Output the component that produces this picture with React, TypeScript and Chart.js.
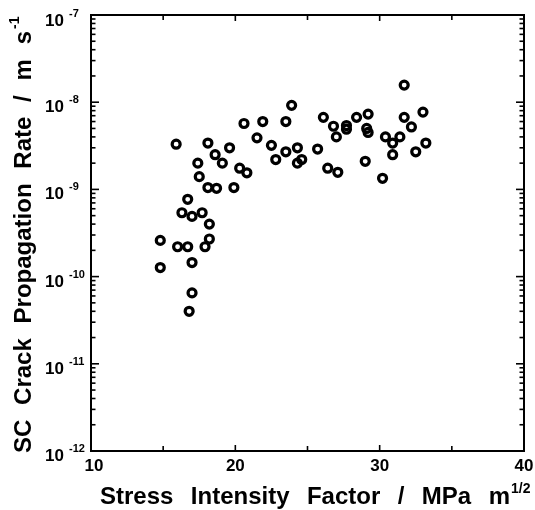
import React, { useEffect, useRef } from "react";
import { Chart, registerables } from "chart.js";

Chart.register(...registerables);

// Stress intensity factor K (MPa m^1/2)
const stressIntensity = [
  15.9, 18.1, 19.6, 18.6, 19.1, 17.4, 20.3, 20.8, 17.5, 18.1,
  18.7, 19.9, 16.7, 16.3, 17.0, 17.7, 18.2, 14.8, 16.0, 16.7,
  18.2, 17.9, 17.0, 14.8, 17.0, 16.8, 20.6, 21.9, 23.5, 23.9,
  21.5, 22.5, 23.5, 24.3, 22.8, 24.6, 24.3, 25.7, 26.1, 26.8,
  27.0, 27.7, 27.7, 28.4, 29.2, 29.1, 29.2, 26.4, 27.1, 29.0,
  30.2, 30.4, 31.7, 31.7, 33.0, 32.2, 31.4, 30.9, 30.9, 33.2,
  32.5,
];

// SC crack propagation rate (m/s)
const crackRate = [
  3.3e-9, 3.4e-9, 3.0e-9, 2.5e-9, 2.0e-9, 2.0e-9, 1.75e-9, 1.55e-9, 1.4e-9, 1.05e-9,
  1.03e-9, 1.05e-9, 7.7e-10, 5.4e-10, 4.9e-10, 5.4e-10, 4.0e-10, 2.6e-10, 2.2e-10, 2.2e-10,
  2.7e-10, 2.2e-10, 1.45e-10, 1.27e-10, 6.5e-11, 4.0e-11, 5.7e-9, 6.0e-9, 6.0e-9, 9.2e-9,
  3.9e-9, 3.2e-9, 2.7e-9, 3.0e-9, 2.2e-9, 2.2e-9, 2.0e-9, 2.9e-9, 6.7e-9, 5.3e-9,
  4.0e-9, 5.4e-9, 4.9e-9, 6.7e-9, 7.3e-9, 5.0e-9, 4.5e-9, 1.75e-9, 1.57e-9, 2.1e-9,
  1.34e-9, 4.0e-9, 1.57e-8, 6.7e-9, 7.7e-9, 5.2e-9, 4.0e-9, 3.4e-9, 2.5e-9, 3.4e-9,
  2.7e-9,
];

const xTickValues = [10, 20, 30, 40];
const xTickLabels = ["10", "20", "30", "40"];
const xMinorTickValues = [15, 25, 35];
const yExponents = [-7, -8, -9, -10, -11, -12];
const yExponentLabels = ["-7", "-8", "-9", "-10", "-11", "-12"];

const xTitleWords = ["Stress", "Intensity", "Factor", "/", "MPa", "m"];
const xTitleSup = "1/2";
const yTitleWords = ["SC", "Crack", "Propagation", "Rate", "/", "m", "s"];
const yTitleSup = "-1";

const FONT = '"Liberation Sans", Arial, sans-serif';

function drawJustified(
  ctx: CanvasRenderingContext2D,
  words: string[],
  start: number,
  end: number,
  font: string
) {
  ctx.font = font;
  const widths = words.map((w) => ctx.measureText(w).width);
  const total = widths.reduce((a, b) => a + b, 0);
  const gap = (end - start - total) / (words.length - 1);
  let x = start;
  words.forEach((w, i) => {
    ctx.fillText(w, x, 0);
    x += widths[i] + gap;
  });
  return x - gap;
}

const axesPlugin = {
  id: "customAxes",
  afterDraw(chart: any) {
    const ctx: CanvasRenderingContext2D = chart.ctx;
    const { left, right, top, bottom } = chart.chartArea;
    const xs = chart.scales.x;
    const ys = chart.scales.y;
    ctx.save();
    ctx.strokeStyle = "#000";
    ctx.fillStyle = "#000";
    ctx.lineWidth = 2;
    ctx.strokeRect(left, top, right - left, bottom - top);

    ctx.lineWidth = 1.6;
    const tick = (x1: number, y1: number, x2: number, y2: number) => {
      ctx.beginPath();
      ctx.moveTo(x1, y1);
      ctx.lineTo(x2, y2);
      ctx.stroke();
    };
    // x ticks
    xTickValues.forEach((v) => {
      const px = xs.getPixelForValue(v);
      tick(px, bottom, px, bottom - 6);
      tick(px, top, px, top + 6);
    });
    xMinorTickValues.forEach((v) => {
      const px = xs.getPixelForValue(v);
      tick(px, bottom, px, bottom - 5);
      tick(px, top, px, top + 5);
    });
    // y ticks
    yExponents.forEach((e) => {
      const py = ys.getPixelForValue(Math.pow(10, e));
      tick(left, py, left + 8, py);
      tick(right, py, right - 8, py);
    });
    for (let e = -12; e < -7; e++) {
      for (let m = 2; m <= 9; m++) {
        const py = ys.getPixelForValue(m * Math.pow(10, e));
        tick(left, py, left + 4.5, py);
        tick(right, py, right - 4.5, py);
      }
    }

    // x tick labels
    ctx.font = `bold 17px ${FONT}`;
    ctx.textAlign = "center";
    ctx.textBaseline = "alphabetic";
    xTickValues.forEach((v, i) => {
      const px = xs.getPixelForValue(v);
      ctx.fillText(xTickLabels[i], px + (i === 0 ? 3 : 0), bottom + 20);
    });

    // y tick labels
    yExponents.forEach((e, i) => {
      const py = ys.getPixelForValue(Math.pow(10, e));
      ctx.font = `bold 17px ${FONT}`;
      ctx.textAlign = "right";
      ctx.fillText("10", 64, py + (e === -7 ? 11 : 10));
      ctx.font = `bold 11px ${FONT}`;
      ctx.textAlign = "left";
      ctx.fillText(yExponentLabels[i], 69, py + (e === -7 ? 2 : 1));
    });

    // x title
    ctx.textAlign = "left";
    ctx.save();
    ctx.translate(0, 504);
    const xEnd = drawJustified(ctx, xTitleWords, 100, 510, `bold 24px ${FONT}`);
    ctx.font = `bold 14px ${FONT}`;
    ctx.fillText(xTitleSup, xEnd + 1, -11);
    ctx.restore();

    // y title
    ctx.save();
    ctx.translate(31, 0);
    ctx.rotate(-Math.PI / 2);
    const yEnd = drawJustified(ctx, yTitleWords, -453, -31, `bold 24px ${FONT}`);
    ctx.font = `bold 14px ${FONT}`;
    ctx.fillText(yTitleSup, yEnd + 2, -12);
    ctx.restore();

    ctx.restore();
  },
};

export default function App() {
  const ref = useRef<HTMLCanvasElement>(null);
  useEffect(() => {
    if (!ref.current) return;
    const points = stressIntensity.map((x, i) => ({ x, y: crackRate[i] }));
    const chart = new Chart(ref.current, {
      type: "scatter",
      data: {
        datasets: [
          {
            data: points,
            pointStyle: "circle",
            pointRadius: 4,
            pointBorderWidth: 3.2,
            borderColor: "#000",
            backgroundColor: "rgba(255,255,255,0)",
          },
        ],
      },
      options: {
        responsive: false,
        animation: false,
        layout: { padding: { left: 91, top: 15, right: 11, bottom: 59 } },
        scales: {
          x: { type: "linear", min: 10, max: 40, display: false },
          y: { type: "logarithmic", min: 1e-12, max: 1e-7, display: false },
        },
        plugins: {
          legend: { display: false },
          tooltip: { enabled: false },
        },
      },
      plugins: [axesPlugin],
    });
    return () => chart.destroy();
  }, []);
  return (
    <div style={{ position: "fixed", left: 0, top: 0, width: 535, height: 510, background: "#fff" }}>
      <canvas ref={ref} width={535} height={510} style={{ display: "block" }} />
    </div>
  );
}
